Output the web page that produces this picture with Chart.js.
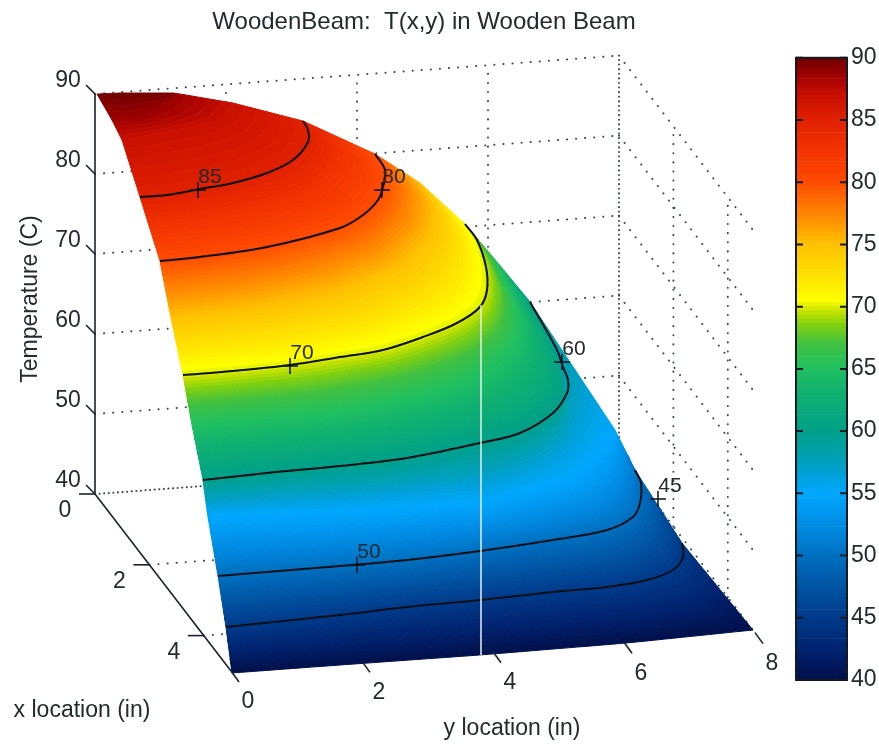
<!DOCTYPE html>
<html><head><meta charset="utf-8"><title>WoodenBeam</title>
<script src="https://cdn.jsdelivr.net/npm/chart.js@4"></script>
<style>
html,body{margin:0;padding:0;background:#fff;width:879px;height:748px;overflow:hidden}
canvas{position:absolute;filter:blur(.45px)}
#surface{left:0;top:0}
#bar{left:780px;top:40px}
</style></head><body>
<canvas id="surface" width="879" height="748"></canvas>
<canvas id="bar" width="99" height="660"></canvas>
<script>
// axis ticks
const xTicks=[0,2,4];
const yTicks=[0,2,4,6,8];
const zTicks=[40,50,60,70,80,90];
const barTicks=[40,45,50,55,60,65,70,75,80,85,90];
const titleText='WoodenBeam:  T(x,y) in Wooden Beam';
const xLabel='x location (in)', yLabel='y location (in)', zLabel='Temperature (C)';
// isotherms, as [h,v] on the page-sized scales
const iso40=[[232,673],[340,665],[480,655],[627,643],[753,630]];
const iso45=[[226,627],[340,615],[407,607],[480,600],[553,592],[607,587],[647,580],[673,570],[683,557],[682,543]];
const iso50=[[218,576],[340,566],[407,560],[480,551],[553,540],[607,530],[633,517],[640,503],[641,483],[635,470]];
const iso55=[[208,517],[340,512],[480,503],[573,478],[606,448],[615,430]];
const iso60=[[203,480],[267,473],[340,466],[407,458],[480,443],[520,433],[553,413],[567,393],[568,380],[563,367],[557,350],[530,302]];
const iso65=[[192,425],[340,412],[423,395],[480,375],[515,345],[520,315],[497,262]];
const iso70=[[183,375],[233,371],[290,365],[340,357],[383,350],[423,337],[457,323],[480,307],[487,290],[486,267],[477,240],[465,224]];
const iso75=[[171,318],[260,308],[340,292],[400,268],[432,235],[435,205],[420,183]];
const iso80=[[160,261],[200,257],[267,247],[340,228],[363,215],[378,200],[383,187],[385,170],[375,154]];
const iso85=[[140,197],[167,195],[200,189],[233,183],[267,173],[293,160],[308,142],[308,130],[303,121]];
const iso87=[[122,140],[187,128],[220,120],[233,103]];
const iso88=[[112,120],[140,120],[165,110],[178,100],[180,94]];
const iso90=[[97,94],[120,93],[150,93],[172,93]];
const isoLevels=[40,45,50,55,60,65,70,75,80,85,87,88.5,90];
const isoCurves=[iso40,iso45,iso50,iso55,iso60,iso65,iso70,iso75,iso80,iso85,iso87,iso88,iso90];
const drawnContours=[iso45,iso50,iso60,iso70,iso80,iso85];
// contour labels
const markLabels=['85','80','70','60','50','45'];
const markH=[198,382,290,562,357,658];
const markV=[190,190,366,362,565,499];
// colour map
const mapT=[40,42,45,47,50,52,55,56.5,58,60,63,65,67,68.5,69.5,70.5,72,75,77,80,83,85,87,88.5,90];
const mapC=['#00104a','#001f6a','#003a8a','#004f9e','#0070c0','#0088e0','#00a8ff','#00a0d8','#00a0b0','#00a088','#10b070','#20c060','#40c040','#80d010','#c0e000','#ffff00','#ffe800','#ffc000','#ff9000','#ff4a00','#f03000','#e02000','#c81000','#a00000','#700000'];
const bandCount=150;
const seamV=[305,655], seamH=[481,481];

function hex(c){return [1,3,5].map(i=>parseInt(c.slice(i,i+2),16));}
function colour(t){
  let i=0;while(i<mapT.length-2&&t>mapT[i+1])i++;
  const f=Math.min(1,Math.max(0,(t-mapT[i])/(mapT[i+1]-mapT[i])));
  const a=hex(mapC[i]),b=hex(mapC[i+1]);
  return 'rgb('+a.map((v,k)=>Math.round(v+(b[k]-v)*f)).join(',')+')';
}
// view of the box: maps beam coordinates to the page-sized scales
function P(x,y,T){return {x:95+27.2*x+65.5*y,y:494-8*(T-40)+35.4*x-4.8*y};}
const N=60;
function resample(c){
  const d=[0];for(let i=1;i<c.length;i++)d.push(d[i-1]+Math.hypot(c[i][0]-c[i-1][0],c[i][1]-c[i-1][1]));
  const L=d[d.length-1];let o=[];let k=0;
  for(let n=0;n<N;n++){const s=L*n/(N-1);while(k<c.length-2&&s>d[k+1])k++;
    const f=(s-d[k])/(d[k+1]-d[k]||1);o.push([c[k][0]+(c[k+1][0]-c[k][0])*f,c[k][1]+(c[k+1][1]-c[k][1])*f]);}
  for(let pass=0;pass<3;pass++)o=o.map((p,i)=>(i===0||i===N-1)?p:[(o[i-1][0]+2*p[0]+o[i+1][0])/4,(o[i-1][1]+2*p[1]+o[i+1][1])/4]);
  return o;
}
const rs=isoCurves.map(resample);
function curveAt(t){
  let i=0;while(i<isoLevels.length-2&&t>isoLevels[i+1])i++;
  const f=Math.min(1,Math.max(0,(t-isoLevels[i])/(isoLevels[i+1]-isoLevels[i])));
  return rs[i].map((p,k)=>({x:p[0]+(rs[i+1][k][0]-p[0])*f,y:p[1]+(rs[i+1][k][1]-p[1])*f}));
}
const sets=[];
const lineSet=(data,o)=>Object.assign({data,showLine:true,pointRadius:0,borderColor:'#1a2230',borderWidth:1.6,tension:0,fill:false,order:5},o);
// dotted grid
const dot=(a,b,dense)=>{
  const o={borderColor:'#3c4450',borderWidth:2,borderCapStyle:'round',borderDash:[0.1,dense?4.5:9],order:40};
  sets.push(lineSet([a,b],o));
};
zTicks.forEach(t=>{dot(P(0,0,t),P(0,8,t),t===40);dot(P(0,8,t),P(5,8,t));});
yTicks.slice(1).forEach(y=>dot(P(0,y,40),P(0,y,90),y===8));
xTicks.slice(1).forEach(x=>{dot(P(x,8,40),P(x,8,90));dot(P(x,0,40),P(x,8,40));});
// surface bands
for(let b=0;b<bandCount;b++){
  const lo=40+50*b/bandCount,hi=40+50*(b+1)/bandCount,col=colour((lo+hi)/2);
  const poly=curveAt(lo).concat(curveAt(hi).reverse());
  poly.push(poly[0]);
  sets.push(lineSet(poly,{borderColor:col,backgroundColor:col,borderWidth:1,fill:'shape',order:30}));
}
// contours
drawnContours.forEach(c=>sets.push(lineSet(c.map(p=>({x:p[0],y:p[1]})),{borderColor:'#0c1018',borderWidth:2,tension:.35,order:10})));
// image seam
sets.push(lineSet([{x:seamH[0],y:seamV[0]},{x:seamH[1],y:seamV[1]}],{borderColor:'#e6eeee',borderWidth:1.5,order:8}));
// axes and ticks
sets.push(lineSet([P(0,0,90),P(0,0,40)]));
sets.push(lineSet([P(0,0,40),P(5,0,40)]));
const off=(p,dx,dy)=>({x:p.x+dx,y:p.y+dy});
zTicks.forEach(t=>{const p=P(0,0,t);sets.push(lineSet([p,off(p,-9,-9)]));});
xTicks.forEach(x=>{const p=P(x,0,40);sets.push(lineSet([p,off(p,-16,0)]));});
yTicks.forEach(y=>{const p=P(5,y,40);sets.push(lineSet([p,off(p,8,11)]));});
// contour markers
sets.push({data:markH.map((h,i)=>({x:h,y:markV[i]})),showLine:false,pointStyle:'cross',pointRadius:8,borderColor:'#0c1018',borderWidth:1.5,order:1});

const textPlugin={id:'texts',afterDatasetsDraw(c){
  const g=c.ctx,X=c.scales.x,Y=c.scales.y;
  const put=(s,h,v,size,rot)=>{g.save();g.translate(X.getPixelForValue(h),Y.getPixelForValue(v));if(rot)g.rotate(rot);
    g.font=size+'px "Liberation Sans"';g.fillStyle='#232a30';g.textAlign='center';g.textBaseline='middle';g.fillText(s,0,0);g.restore();};
  put(titleText,424,22,24);
  put(zLabel,31,299,23,-Math.PI/2);
  put(xLabel,82,711,23);
  put(yLabel,512,729,23);
  zTicks.forEach(t=>{const p=P(0,0,t);put(String(t),p.x-27,p.y-13,23);});
  xTicks.forEach(x=>{const p=P(x,0,40);put(String(x),p.x-30,p.y+17,23);});
  yTicks.forEach(y=>{const p=P(5,y,40);put(String(y),p.x+17,p.y+31,23);});
  markLabels.forEach((s,i)=>put(s,markH[i]+12,markV[i]-13,21));
}};
new Chart(document.getElementById('surface'),{type:'scatter',data:{datasets:sets},plugins:[textPlugin],options:{
  responsive:false,animation:false,layout:{padding:0,autoPadding:false},events:[],
  plugins:{legend:{display:false},tooltip:{enabled:false},title:{display:false}},
  scales:{x:{type:'linear',display:false,min:0,max:879},y:{type:'linear',display:false,min:0,max:748,reverse:true}}
}});
// colour bar
const barSets=[];
for(let b=0;b<bandCount;b++){const lo=40+50*b/bandCount,hi=40+50*(b+1)/bandCount,col=colour((lo+hi)/2);
  barSets.push({data:[[lo,hi]],backgroundColor:col,borderColor:col,borderWidth:0,barPercentage:1,categoryPercentage:1,grouped:false});}
const barOutline={id:'barOutline',afterDatasetsDraw(c){
  const g=c.ctx,a=c.chartArea,Y=c.scales.y;g.save();g.strokeStyle='#141a22';g.lineWidth=2;g.strokeRect(a.left,a.top,a.right-a.left,a.bottom-a.top);
  barTicks.forEach(t=>{const v=Y.getPixelForValue(t);g.beginPath();g.moveTo(a.left,v);g.lineTo(a.left+7,v);g.moveTo(a.right,v);g.lineTo(a.right-7,v);g.stroke();});g.restore();
}};
new Chart(document.getElementById('bar'),{type:'bar',data:{labels:['T'],datasets:barSets},plugins:[barOutline],options:{
  responsive:false,animation:false,events:[],layout:{padding:{left:16,top:14,bottom:20,right:0},autoPadding:false},
  plugins:{legend:{display:false},tooltip:{enabled:false}},
  scales:{x:{display:false},
   y:{position:'right',min:40,max:90,afterFit(s){s.width=32;},afterBuildTicks(s){s.ticks=barTicks.map(v=>({value:v}));},
      border:{display:false},grid:{display:false,drawTicks:false,tickLength:0},
      ticks:{autoSkip:false,padding:4,color:'#232a30',font:{family:'Liberation Sans',size:23}}}}
}});
</script></body></html>
